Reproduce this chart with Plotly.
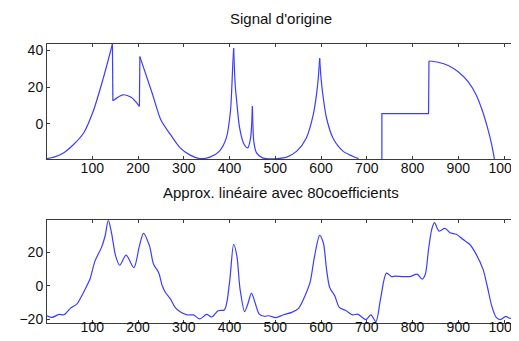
import plotly.graph_objects as go

# ---- Data ----
# Top panel: original signal, stored as pieces between its corners / jumps
rise_x = [1, 16, 37, 59, 81, 102, 124, 144]
rise_y = [-19.1, -18.3, -16, -11.4, -5.1, 6.8, 24.9, 43.6]
drop1_x = [144, 145]
drop1_y = [43.6, 12.5]
arc_x = [145, 167, 185, 203]
arc_y = [12.5, 15.8, 14.4, 9.5]
jump1_x = [203, 204]
jump1_y = [9.5, 36.7]
fall_x = [204, 232, 250, 271, 292, 314, 335, 357, 378, 393, 402, 405, 407, 409]
fall_y = [36.7, 15.8, 2.0, -6, -13.2, -17.2, -19.1, -18.3, -15, -7.8, 6.8, 20, 32, 41.3]
bump1_x = [409, 411, 413, 415, 422, 432, 440, 446, 448, 450]
bump1_y = [41.3, 28, 19, 14, -2.3, -11.4, -13.2, -7.8, -2, 9.5]
bump2_x = [450, 451, 453, 459, 472, 486, 504, 525, 547, 568, 583, 590, 594, 597]
bump2_y = [9.5, 0, -9.6, -16, -18.7, -19.2, -19.1, -18.3, -15, -7.8, 4.9, 15.8, 25, 35.8]
bump3_x = [597, 600, 604, 612, 626, 648, 669, 682]
bump3_y = [35.8, 25, 15.8, 3.1, -7.8, -15, -17.8, -19.1]
step_x = [733, 733, 835, 836]
step_y = [-19.3, 5.5, 5.5, 34.3]
tail_x = [836, 856, 878, 899, 921, 939, 953, 964, 973, 979]
tail_y = [34.3, 33.6, 31.8, 28.5, 23.1, 15.8, 6.8, -2.3, -11.4, -19.3]

# Bottom panel: linear approximation with 80 coefficients
approx_x = [1, 12, 27, 38, 52, 66, 77, 88, 95, 106, 120, 128, 135, 142, 151, 160,
            174, 191, 203, 212, 225, 234, 245, 253, 260, 271, 281, 292, 307, 321,
            335, 350, 361, 375, 389, 400, 409, 416, 423, 433, 440, 448, 456, 465,
            476, 486, 501, 518, 536, 551, 565, 576, 586, 597, 605, 612, 619, 630,
            640, 655, 669, 680, 698, 709, 720, 730, 743, 754, 763, 777, 795, 810,
            821, 828, 835, 842, 848, 858, 871, 882, 896, 910, 925, 939, 954, 964,
            973, 983, 992, 1004, 1013, 1022]
approx_y = [-17.8, -18.8, -17, -17.2, -13.4, -10.9, -5.9, 0, 4, 14.8, 22.7, 29.6, 39, 31.5, 17.8, 12.2,
            18.2, 10.8, 23.7, 31.2, 23.7, 12.8, 7.9, 0, -4, -7.9, -12.8, -15.4, -17.3, -17.3,
            -19.7, -17, -18.5, -14.8, -14.2, 2, 24.7, 17.8, -2, -15.4, -10.8, -4.3, -10.2, -16.8,
            -18.1, -17.8, -18.9, -17.2, -15.8, -13.4, -5.9, 2, 17.8, 30, 25.6, 9.9, -1, -5.9,
            -12.8, -14.8, -17.3, -16.8, -20.1, -17.3, -21.3, -7.9, 7.5, 5.5, 5.7, 5.5, 5.5, 6.9,
            4, 6.9, 21.7, 33.5, 37.5, 32.5, 34.1, 31.5, 30.6, 27.6, 24.7, 18.8, 9.9, -1,
            -11.8, -18.8, -20.1, -18.2, -19.3, -18.3]

x_ticks = [100, 200, 300, 400, 500, 600, 700, 800, 900, 1000]
top_y_ticks = [0, 20, 40]
bottom_y_ticks = [-20, 0, 20]

titles = ["Signal d'origine", "Approx. linéaire avec 80coefficients"]

LINE = "rgb(60,60,255)"
AX = "#3a3a3a"
FONT = dict(family="Liberation Sans, Arial, sans-serif", size=14, color="#111")
TFONT = dict(family="Liberation Sans, Arial, sans-serif", size=15, color="#111")

fig = go.Figure()

top_pieces = [
    (rise_x, rise_y, "spline"), (drop1_x, drop1_y, "linear"), (arc_x, arc_y, "spline"),
    (jump1_x, jump1_y, "linear"), (fall_x, fall_y, "spline"), (bump1_x, bump1_y, "spline"),
    (bump2_x, bump2_y, "spline"), (bump3_x, bump3_y, "spline"), (step_x, step_y, "linear"),
    (tail_x, tail_y, "spline"),
]
for px_, py_, shp in top_pieces:
    fig.add_trace(go.Scatter(x=px_, y=py_, mode="lines",
                             line=dict(color=LINE, width=1.2, shape=shp, smoothing=0.8),
                             xaxis="x", yaxis="y", showlegend=False, hoverinfo="skip"))

fig.add_trace(go.Scatter(x=approx_x, y=approx_y, mode="lines",
                         line=dict(color=LINE, width=1.2, shape="spline", smoothing=0.8),
                         xaxis="x2", yaxis="y2", showlegend=False, hoverinfo="skip"))

common_x = dict(range=[1, 1024], tickvals=x_ticks, ticks="inside", ticklen=3, tickcolor=AX,
                showline=True, linecolor=AX, linewidth=1, mirror="ticks", showgrid=False,
                zeroline=False, tickfont=FONT)
common_y = dict(ticks="inside", ticklen=3, tickcolor=AX, showline=True, linecolor=AX, linewidth=1,
                mirror="ticks", showgrid=False, zeroline=False, tickfont=FONT)

fig.update_layout(
    width=519, height=341,
    margin=dict(l=39, r=7, t=36, b=26),
    paper_bgcolor="white", plot_bgcolor="white",
    font=FONT,
    xaxis=dict(domain=[0, 1], anchor="y", ticklabelstandoff=-4, **common_x),
    yaxis=dict(domain=[0.588, 1.0], anchor="x", range=[-19.3, 43.6], tickvals=top_y_ticks, **common_y),
    xaxis2=dict(domain=[0, 1], anchor="y2", ticklabelstandoff=-9, **common_x),
    yaxis2=dict(domain=[0, 0.368], anchor="x2", range=[-22.1, 38.9], tickvals=bottom_y_ticks, **common_y),
    annotations=[
        dict(text=titles[0], x=0.5, y=1.09, xref="paper", yref="paper", showarrow=False,
             xanchor="center", yanchor="middle", font=TFONT),
        dict(text=titles[1], x=0.5, y=0.467, xref="paper", yref="paper", showarrow=False,
             xanchor="center", yanchor="middle", font=TFONT),
    ],
)

fig.write_html("out.html")
